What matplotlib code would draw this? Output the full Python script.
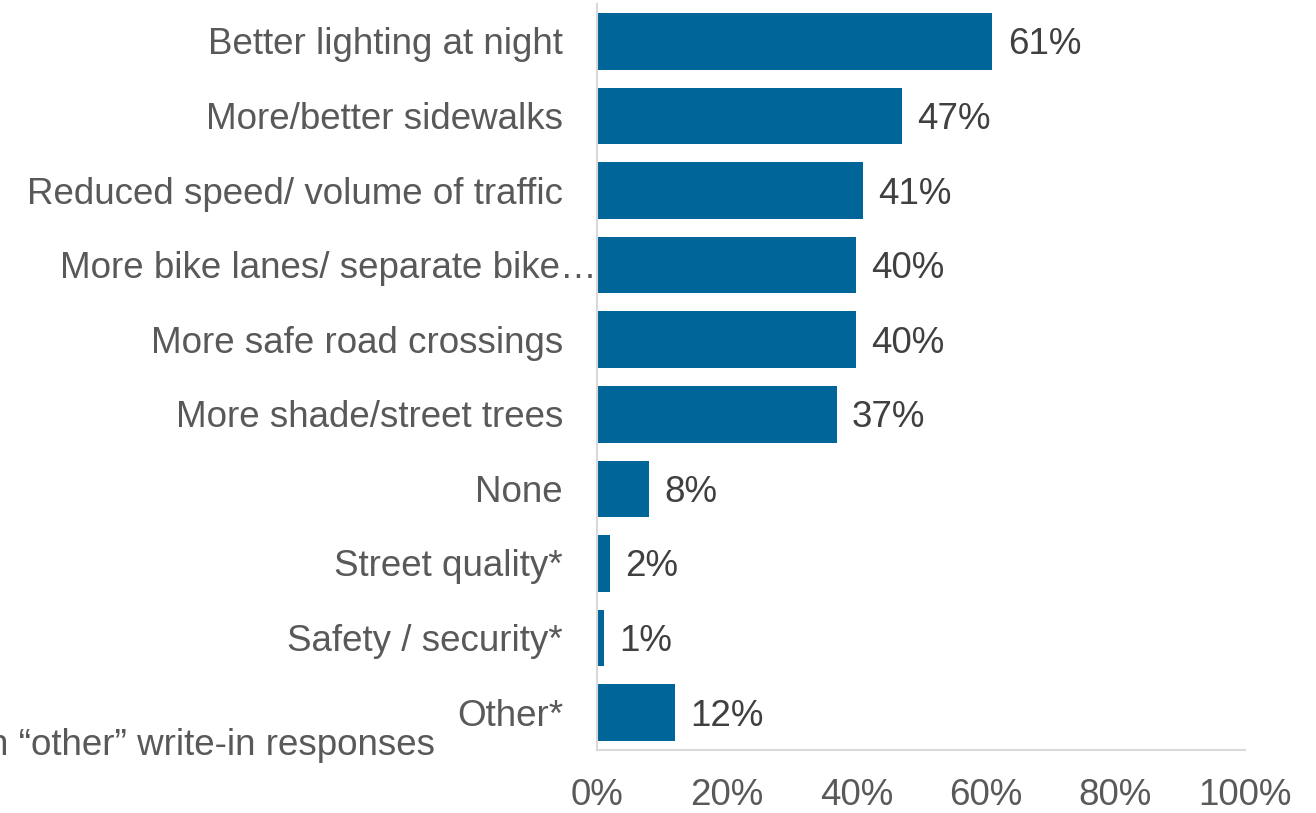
import matplotlib
matplotlib.use("Agg")
from matplotlib import pyplot as plt
from matplotlib.ticker import FuncFormatter

# Survey answers, top to bottom as shown in the chart
categories = [
    "Better lighting at night",
    "More/better sidewalks",
    "Reduced speed/ volume of traffic",
    "More bike lanes/ separate bike\u2026",
    "More safe road crossings",
    "More shade/street trees",
    "None",
    "Street quality*",
    "Safety / security*",
    "Other*",
]
percent = [61, 47, 41, 40, 40, 37, 8, 2, 1, 12]
x_ticks = [0, 20, 40, 60, 80, 100]
footnote = "*Based on \u201cother\u201d write-in responses"

plt.rcParams['font.family'] = ['Liberation Sans', 'DejaVu Sans']
FS = 26.5

fig = plt.figure(figsize=(13.16, 8.13), dpi=100)
ax = fig.add_axes([0.4537, 0.0775, 0.4924, 0.9175])

ypos = list(range(len(categories)))
ax.barh(ypos, percent, height=0.76, color='#006699')
ax.set_ylim(len(categories) - 0.5, -0.5)
ax.set_xlim(0, 100)

# value labels to the right of each bar
for y, v in zip(ypos, percent):
    ax.annotate(f"{v}%", (v, y), xytext=(11, -2.5), textcoords='offset points',
                va='center', ha='left', fontsize=FS, color='#404040')

# category labels (the long one is truncated and runs up to the axis)
ax.set_yticks([])
for y, name in zip(ypos, categories):
    xa = -0.0525 if not name.endswith("\u2026") else 0.0
    ax.annotate(name, (xa, y), xycoords=ax.get_yaxis_transform(),
                xytext=(0, -2.5), textcoords='offset points', ha='right',
                va='center', fontsize=FS, color='#595959')

ax.set_xticks(x_ticks)
ax.xaxis.set_major_formatter(FuncFormatter(lambda v, p: f"{v:.0f}%"))
ax.tick_params(axis='x', length=0, pad=20, labelsize=FS, labelcolor='#595959')

for s in ['top', 'right']:
    ax.spines[s].set_visible(False)
for s in ['left', 'bottom']:
    ax.spines[s].set_color('#d9d9d9')
    ax.spines[s].set_linewidth(1.5)

# footnote runs off the left edge, as in the source slide
fig.text(0.3305, 0.0836, footnote, ha='right', va='center', fontsize=FS,
         color='#595959')

fig.savefig("out.png", dpi=100)
